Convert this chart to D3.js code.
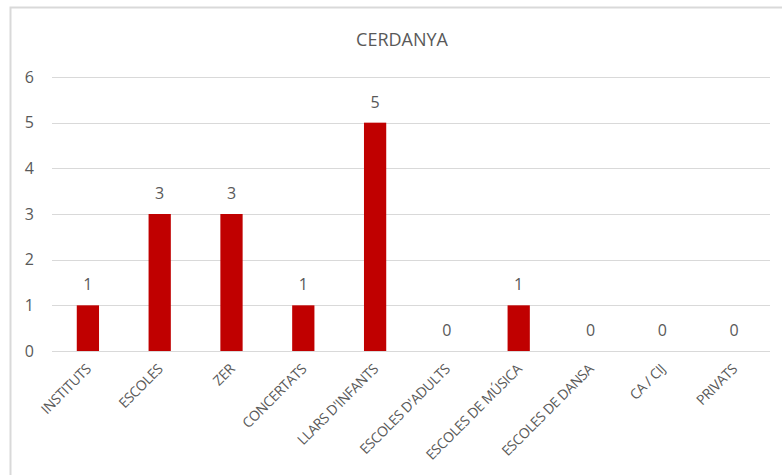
<!DOCTYPE html>
<html>
<head>
<meta charset="utf-8">
<script src="https://cdn.jsdelivr.net/npm/d3@7"></script>
<style>
  body { margin: 0; background: #fff; }
  svg { display: block; font-family: 'Open Sans', sans-serif; }
</style>
</head>
<body>
<svg id="chart" width="782" height="475"></svg>
<script>
const title = 'CERDANYA';
const categories = ['INSTITUTS', 'ESCOLES', 'ZER', 'CONCERTATS', "LLARS D'INFANTS",
  "ESCOLES D'ADULTS", 'ESCOLES DE MÚSICA', 'ESCOLES DE DANSA', 'CA / CIJ', 'PRIVATS'];
const values = [1, 3, 3, 1, 5, 0, 1, 0, 0, 0];
const yTicks = [0, 1, 2, 3, 4, 5, 6];

const width = 782;
const height = 475;
const margin = { top: 77, right: 12, bottom: 124, left: 52 };
const textColor = '#595959';

const svg = d3.select('#chart');

// chart frame
svg.append('rect')
  .attr('x', 10.5).attr('y', 7.5)
  .attr('width', width + 20).attr('height', height + 20)
  .attr('fill', 'none')
  .attr('stroke', '#d9d9d9')
  .attr('stroke-width', 2);

const x = d3.scaleBand()
  .domain(categories)
  .range([margin.left, width - margin.right])
  .paddingInner(0.69)
  .paddingOuter(0.345);

const y = d3.scaleLinear()
  .domain([0, 6])
  .range([height - margin.bottom, margin.top]);

// gridlines
svg.append('g')
  .selectAll('line')
  .data(yTicks)
  .join('line')
  .attr('x1', margin.left)
  .attr('x2', width - margin.right)
  .attr('y1', (d) => Math.round(y(d)) + 0.5)
  .attr('y2', (d) => Math.round(y(d)) + 0.5)
  .attr('stroke', '#d9d9d9')
  .attr('stroke-width', 1);

// y axis labels
svg.append('g')
  .attr('transform', `translate(${margin.left},0)`)
  .call(d3.axisLeft(y).tickValues(yTicks).tickFormat(d3.format('d')).tickSize(0).tickPadding(18))
  .call((g) => g.select('.domain').remove())
  .call((g) => g.selectAll('text')
    .attr('fill', textColor)
    .attr('font-size', 16)
    .attr('font-family', "'Open Sans', sans-serif"));

// bars
svg.append('g')
  .selectAll('rect')
  .data(values)
  .join('rect')
  .attr('x', (d, i) => x(categories[i]))
  .attr('width', x.bandwidth())
  .attr('y', (d) => y(d))
  .attr('height', (d) => y(0) - y(d))
  .attr('fill', '#c00000');

// value labels
svg.append('g')
  .selectAll('text')
  .data(values)
  .join('text')
  .attr('x', (d, i) => x(categories[i]) + x.bandwidth() / 2)
  .attr('y', (d) => y(d) - 15)
  .attr('text-anchor', 'middle')
  .attr('fill', textColor)
  .attr('font-size', 16)
  .text((d) => d);

// category labels
svg.append('g')
  .selectAll('text')
  .data(categories)
  .join('text')
  .attr('transform', (d) => `translate(${x(d) + x.bandwidth() / 2 + 4},${y(0) + 19}) rotate(-45)`)
  .attr('text-anchor', 'end')
  .attr('fill', textColor)
  .attr('font-size', 14)
  .attr('letter-spacing', -0.4)
  .text((d) => d);

// title
svg.append('text')
  .attr('x', 402)
  .attr('y', 46)
  .attr('text-anchor', 'middle')
  .attr('fill', textColor)
  .attr('font-size', 18)
  .text(title);
</script>
</body>
</html>
